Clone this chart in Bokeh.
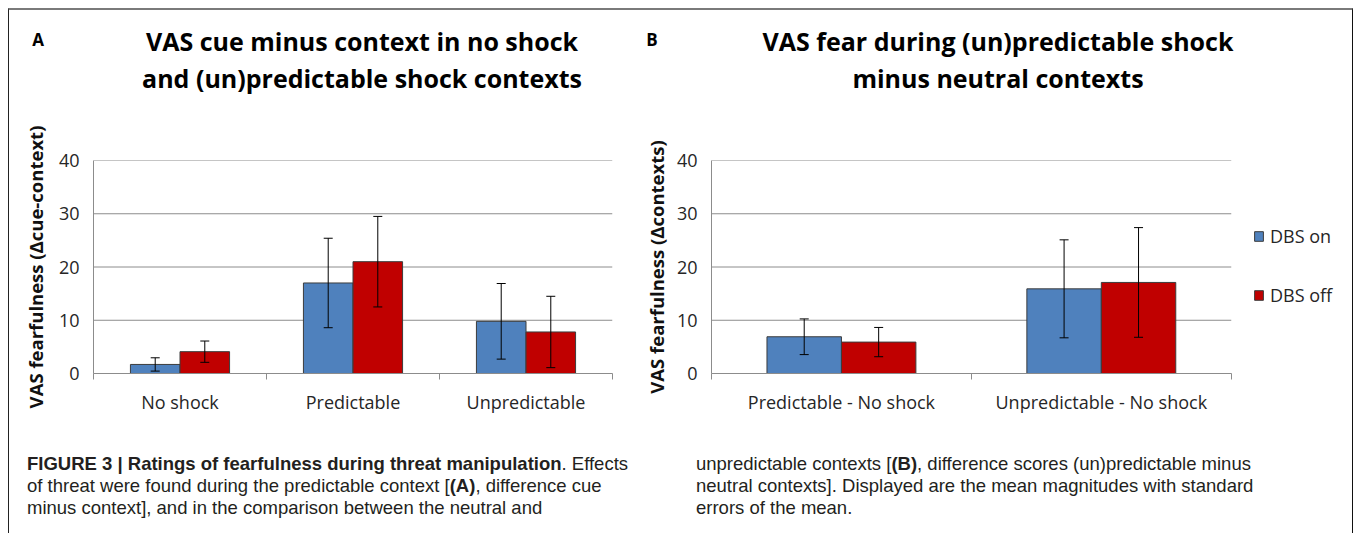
from bokeh.plotting import figure
from bokeh.models import (ColumnDataSource, Range1d, LinearAxis, FixedTicker, Whisker, TeeHead,
                          Legend, LegendItem, Div)
from bokeh.layouts import row, column
from bokeh.embed import file_html
from bokeh.resources import INLINE

# ---------------- data ----------------
cats_a = ["No shock", "Predictable", "Unpredictable"]
on_a = [1.7, 17.0, 9.8]
off_a = [4.1, 21.0, 7.8]
on_a_se = [1.25, 8.4, 7.1]
off_a_se = [2.0, 8.5, 6.7]

cats_b = ["Predictable - No shock", "Unpredictable - No shock"]
on_b = [6.9, 15.9]
off_b = [5.9, 17.1]
on_b_se = [3.35, 9.2]
off_b_se = [2.75, 10.3]

series = ["DBS on", "DBS off"]
y_ticks = [0, 10, 20, 30, 40]

title_a = ["VAS cue minus context in no shock", "and (un)predictable shock contexts"]
title_b = ["VAS fear during (un)predictable shock", "minus neutral contexts"]
ylabel_a = "VAS fearfulness (\u0394cue-context)"
ylabel_b = "VAS fearfulness (\u0394contexts)"

# ---------------- style ----------------
BLUE = "#4F81BD"
RED = "#C00000"
GRID = "#8c8c8c"
TXT = "#262626"
FONT = "Open Sans"
W = 0.2865
FIG_H = 320
TITLE_H = 100


def make_panel(cats, on, off, on_se, off_se, width, bl, br, legend_w, ylabel, ylabel_standoff,
               legend=False):
    n = len(cats)
    centers = [i + 0.5 for i in range(n)]
    src = ColumnDataSource(dict(
        cat=cats,
        x_on=[c - W / 2 for c in centers], x_off=[c + W / 2 for c in centers],
        on=on, off=off,
        on_lo=[v - e for v, e in zip(on, on_se)], on_hi=[v + e for v, e in zip(on, on_se)],
        off_lo=[v - e for v, e in zip(off, off_se)], off_hi=[v + e for v, e in zip(off, off_se)],
    ))
    frame_w = width - bl - br
    data_w = frame_w - legend_w
    x_end = n * frame_w / data_w          # room for the legend inside the frame
    p = figure(x_range=Range1d(0, x_end), y_range=Range1d(0, 40),
               width=width, height=FIG_H, output_backend="svg", toolbar_location=None,
               min_border_left=bl, min_border_right=br, min_border_top=50, min_border_bottom=57,
               x_axis_location=None, outline_line_color=None)
    p.xgrid.visible = False
    p.ygrid.visible = False
    # horizontal gridlines limited to the data area
    p.segment(x0=0, x1=n, y0=y_ticks, y1=y_ticks, line_color=GRID, line_width=1)

    ya = p.yaxis[0]
    ya.ticker = FixedTicker(ticks=y_ticks)
    ya.major_tick_line_color = None
    ya.major_tick_out = 0
    ya.major_tick_in = 0
    ya.minor_tick_line_color = None
    ya.axis_line_color = GRID
    ya.major_label_text_font = FONT
    ya.major_label_text_font_size = "18px"
    ya.major_label_text_color = TXT
    ya.major_label_standoff = 14
    ya.axis_label = ylabel
    ya.axis_label_text_font = FONT
    ya.axis_label_text_font_style = "bold"
    ya.axis_label_text_font_size = "18.5px"
    ya.axis_label_text_color = "#111111"
    ya.axis_label_standoff = ylabel_standoff

    # category names at the centres, small tick marks at the category boundaries
    xa = LinearAxis(ticker=FixedTicker(ticks=centers, minor_ticks=list(range(n + 1))),
                    major_label_overrides={c: name for c, name in zip(centers, cats)},
                    bounds=(0, n),
                    axis_line_color=GRID, major_tick_line_color=None,
                    major_tick_out=0, major_tick_in=0,
                    minor_tick_line_color=GRID, minor_tick_out=6, minor_tick_in=0,
                    major_label_standoff=10,
                    major_label_text_font=FONT, major_label_text_font_size="18px",
                    major_label_text_color=TXT)
    p.add_layout(xa, "below")

    r_on = p.vbar(x="x_on", top="on", width=W, source=src,
                  fill_color=BLUE, line_color="#3c3c3c", line_width=1)
    r_off = p.vbar(x="x_off", top="off", width=W, source=src,
                   fill_color=RED, line_color="#3c3c3c", line_width=1)
    for key in ("on", "off"):
        p.add_layout(Whisker(base="x_" + key, upper=key + "_hi", lower=key + "_lo", source=src,
                             level="annotation", line_color="black", line_width=1,
                             upper_head=TeeHead(size=9, line_color="black", line_width=1),
                             lower_head=TeeHead(size=9, line_color="black", line_width=1)))

    if legend:
        lg = Legend(items=[LegendItem(label=series[0], renderers=[r_on]),
                           LegendItem(label=series[1], renderers=[r_off])],
                    location=(data_w + 19, 66), margin=0, padding=0, border_line_color=None,
                    background_fill_alpha=0, label_text_font=FONT, label_text_font_size="18px",
                    label_text_color=TXT, glyph_width=11, glyph_height=12, label_height=22,
                    spacing=35, label_standoff=6)
        p.add_layout(lg)
    return p


def title_div(letter, lx, tx, lines, width):
    html = (
        '<div style="position:relative;width:%dpx;height:%dpx;font-family:\'Open Sans\';'
        'color:#000;">'
        '<div style="position:absolute;left:%dpx;top:19px;width:40px;text-align:center;'
        'font-weight:bold;font-size:17px;line-height:22px;">%s</div>'
        '<div style="position:absolute;left:%dpx;top:13px;width:640px;text-align:center;'
        'font-weight:bold;font-size:25px;line-height:37px;white-space:nowrap;">%s<br>%s</div>'
        '</div>' % (width, TITLE_H, lx - 20, letter, tx - 320, lines[0], lines[1]))
    return Div(text=html, width=width, height=TITLE_H, margin=0)


tA = title_div("A", 29, 353, title_a, 631)
tB = title_div("B", 12, 358, title_b, 712)

pA = make_panel(cats_a, on_a, off_a, on_a_se, off_a_se, 631, 84, 28, 0, ylabel_a, 8)
pB = make_panel(cats_b, on_b, off_b, on_b_se, off_b_se, 712, 67, 0, 122, ylabel_b, 5,
                legend=True)

cap_style = ("font-family:'Liberation Sans', Arial, sans-serif; font-size:18.5px; line-height:22px;"
             " color:#231f20; white-space:nowrap;")
capA_html = ('<div style="margin:23px 0 0 18px; %s"><b>FIGURE 3 | Ratings of fearfulness during '
             'threat manipulation</b>. Effects<br>of threat were found during the predictable '
             'context [<b>(A)</b>, difference cue<br>minus context], and in the comparison between '
             'the neutral and</div>' % cap_style)
capB_html = ('<div style="margin:23px 0 0 56px; %s">unpredictable contexts [<b>(B)</b>, difference '
             'scores (un)predictable minus<br>neutral contexts]. Displayed are the mean magnitudes '
             'with standard<br>errors of the mean.</div>' % cap_style)
capA = Div(text=capA_html, width=631, height=103, margin=0)
capB = Div(text=capB_html, width=712, height=103, margin=0)

layout = column(row(tA, tB), row(pA, pB), row(capA, capB),
                styles={"margin": "8px 0 0 8px",
                        "border-left": "1px solid #222222", "border-top": "2px solid #7a7a7a",
                        "border-right": "1px solid #111111"})

open("out.html", "w").write(file_html(layout, INLINE))
